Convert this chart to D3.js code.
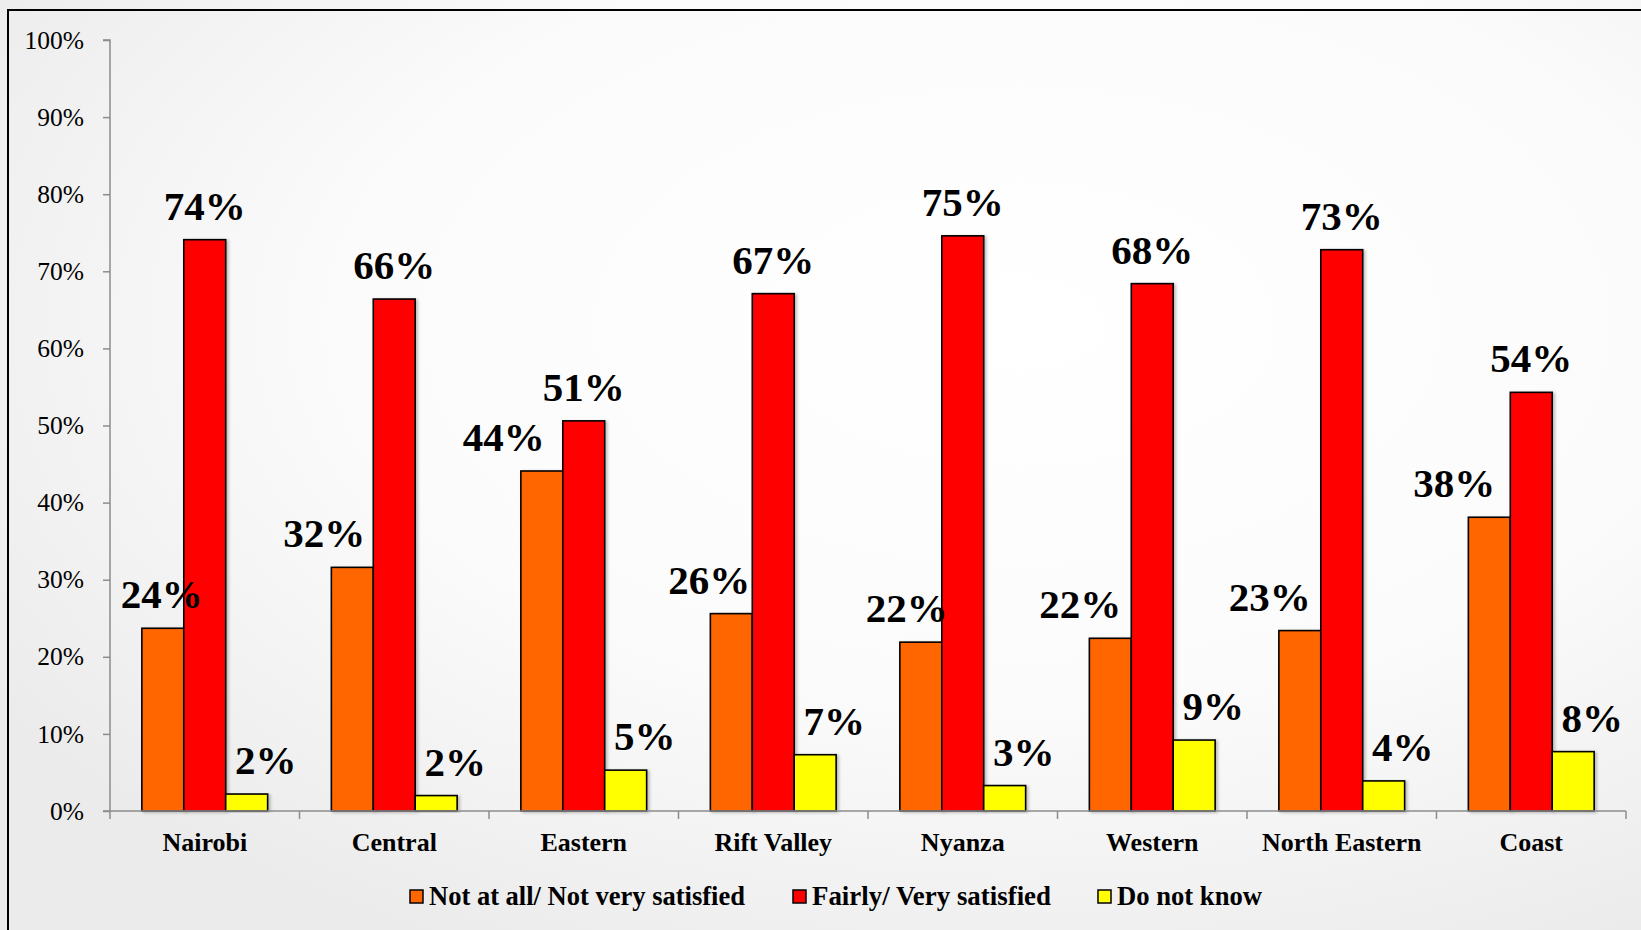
<!DOCTYPE html>
<html>
<head>
<meta charset="utf-8">
<script src="https://cdn.jsdelivr.net/npm/d3@7"></script>
<style>
  body { margin: 0; background: #f4f4f4; }
  svg { display: block; font-family: "Liberation Serif", "Times New Roman", serif; }
  .axis path, .axis line { stroke: #8c8c8c; stroke-width: 1.5; }
  .axis text { fill: #000; font-family: "Liberation Serif", "Times New Roman", serif; }
</style>
</head>
<body>
<svg class="chart"></svg>
<script>
// data
var regions = ["Nairobi", "Central", "Eastern", "Rift Valley", "Nyanza", "Western", "North Eastern", "Coast"];
var seriesNames = ["Not at all/ Not very satisfied", "Fairly/ Very satisfied", "Do not know"];
var notSatisfied = [23.7, 31.6, 44.1, 25.6, 21.9, 22.4, 23.4, 38.1];
var satisfied = [74.1, 66.4, 50.6, 67.1, 74.6, 68.4, 72.8, 54.3];
var dontKnow = [2.2, 2.0, 5.3, 7.3, 3.3, 9.2, 3.9, 7.7];
var yTicks = [0, 10, 20, 30, 40, 50, 60, 70, 80, 90, 100];

var colors = ["#ff6600", "#ff0000", "#ffff00"];
// sideways nudge of the value labels, like Excel moved them
var orangeNudge = [-1, -28, -38, -22, -14, -30, -30, -35];
var yellowNudge = 19;

var W = 1641, H = 930;
var margin = {top: 40, left: 110, right: 15, bottom: 119};
var width = W - margin.left - margin.right;
var height = H - margin.top - margin.bottom;

var svg = d3.select(".chart").attr("width", W).attr("height", H);

var defs = svg.append("defs");
var grad = defs.append("radialGradient").attr("id", "bg")
    .attr("cx", "62%").attr("cy", "35%").attr("r", "75%");
grad.append("stop").attr("offset", "0%").attr("stop-color", "#ffffff");
grad.append("stop").attr("offset", "55%").attr("stop-color", "#fbfbfb");
grad.append("stop").attr("offset", "100%").attr("stop-color", "#ebebeb");

var shadow = defs.append("filter").attr("id", "shadow")
    .attr("x", "-20%").attr("y", "-5%").attr("width", "150%").attr("height", "115%");
shadow.append("feDropShadow").attr("dx", 2).attr("dy", 1).attr("stdDeviation", 1.5)
    .attr("flood-color", "#000").attr("flood-opacity", 0.25);

svg.append("rect").attr("width", W).attr("height", H).attr("fill", "url(#bg)");

// frame (runs off the right and bottom edges)
svg.append("path")
    .attr("d", "M8," + (H + 5) + "V10H" + (W + 5))
    .attr("fill", "none").attr("stroke", "#000").attr("stroke-width", 2);

var chart = svg.append("g")
    .attr("transform", "translate(" + margin.left + "," + margin.top + ")");

var x0 = d3.scaleBand().domain(regions).range([0, width]).padding(0);
var x1 = d3.scaleBand().domain(d3.range(3)).range([0, x0.bandwidth()])
    .paddingInner(0).paddingOuter(0.76);
var y = d3.scaleLinear().domain([0, 100]).range([height, 0]);

var yAxis = d3.axisLeft(y).tickValues(yTicks).tickSize(7).tickPadding(19)
    .tickFormat(function(d){ return d + "%"; });

chart.append("g")
    .attr("class", "y axis")
    .call(yAxis)
    .call(function(g){ g.select(".domain").attr("d", "M0," + height + "V0H-7"); })
    .selectAll("text")
    .style("font-size", "25.5px");

var table = regions.map(function(r, i){
    return {region: r, values: [notSatisfied[i], satisfied[i], dontKnow[i]], idx: i};
});

var groups = chart.selectAll(".group")
    .data(table)
    .enter()
    .append("g")
    .attr("class", "group")
    .attr("transform", function(d){ return "translate(" + x0(d.region) + ",0)"; });

groups.selectAll("rect")
    .data(function(d){ return d.values.map(function(v, s){ return {v: v, s: s}; }); })
    .enter()
    .append("rect")
    .attr("x", function(d){ return x1(d.s); })
    .attr("y", function(d){ return y(d.v); })
    .attr("width", x1.bandwidth())
    .attr("height", function(d){ return height - y(d.v); })
    .attr("fill", function(d){ return colors[d.s]; })
    .attr("stroke", "#000")
    .attr("stroke-width", 1.6)
    .attr("filter", "url(#shadow)");

groups.selectAll(".lbl")
    .data(function(d){ return d.values.map(function(v, s){ return {v: v, s: s, idx: d.idx}; }); })
    .enter()
    .append("text")
    .attr("class", "lbl")
    .attr("x", function(d){
        var nudge = 0;
        if(d.s === 0){ nudge = orangeNudge[d.idx]; }
        else if(d.s === 2){ nudge = yellowNudge; }
        return x1(d.s) + x1.bandwidth() / 2 + nudge;
    })
    .attr("y", function(d){ return y(d.v) - 20; })
    .attr("text-anchor", "middle")
    .style("font-size", "41px")
    .style("font-weight", "bold")
    .text(function(d){ return Math.round(d.v) + "%"; });

// x axis on top of the bars
var xAxis = d3.axisBottom(x0).tickSize(0).tickPadding(20);
var xg = chart.append("g")
    .attr("class", "x axis")
    .attr("transform", "translate(0," + height + ")")
    .call(xAxis);
xg.select(".domain").attr("d", "M-7,0H" + width);
xg.selectAll(".tick text")
    .attr("dy", "0.75em")
    .style("font-size", "26px")
    .style("font-weight", "bold");
xg.selectAll(".sep")
    .data(d3.range(regions.length + 1))
    .enter()
    .append("line")
    .attr("class", "sep")
    .attr("x1", function(i){ return i * x0.step(); })
    .attr("x2", function(i){ return i * x0.step(); })
    .attr("y1", 0).attr("y2", 8);

// legend
var legendX = [410, 793, 1098];
var legendW = [316, 239, 145];
var legend = svg.append("g").attr("class", "legend");
seriesNames.forEach(function(name, s){
    legend.append("rect")
        .attr("x", legendX[s]).attr("y", 890)
        .attr("width", 13).attr("height", 13)
        .attr("fill", colors[s])
        .attr("stroke", "#000").attr("stroke-width", 1.5);
    legend.append("text")
        .attr("x", legendX[s] + 19).attr("y", 905)
        .attr("textLength", legendW[s])
        .attr("lengthAdjust", "spacingAndGlyphs")
        .style("font-size", "28px")
        .style("font-weight", "bold")
        .text(name);
});
</script>
</body>
</html>
